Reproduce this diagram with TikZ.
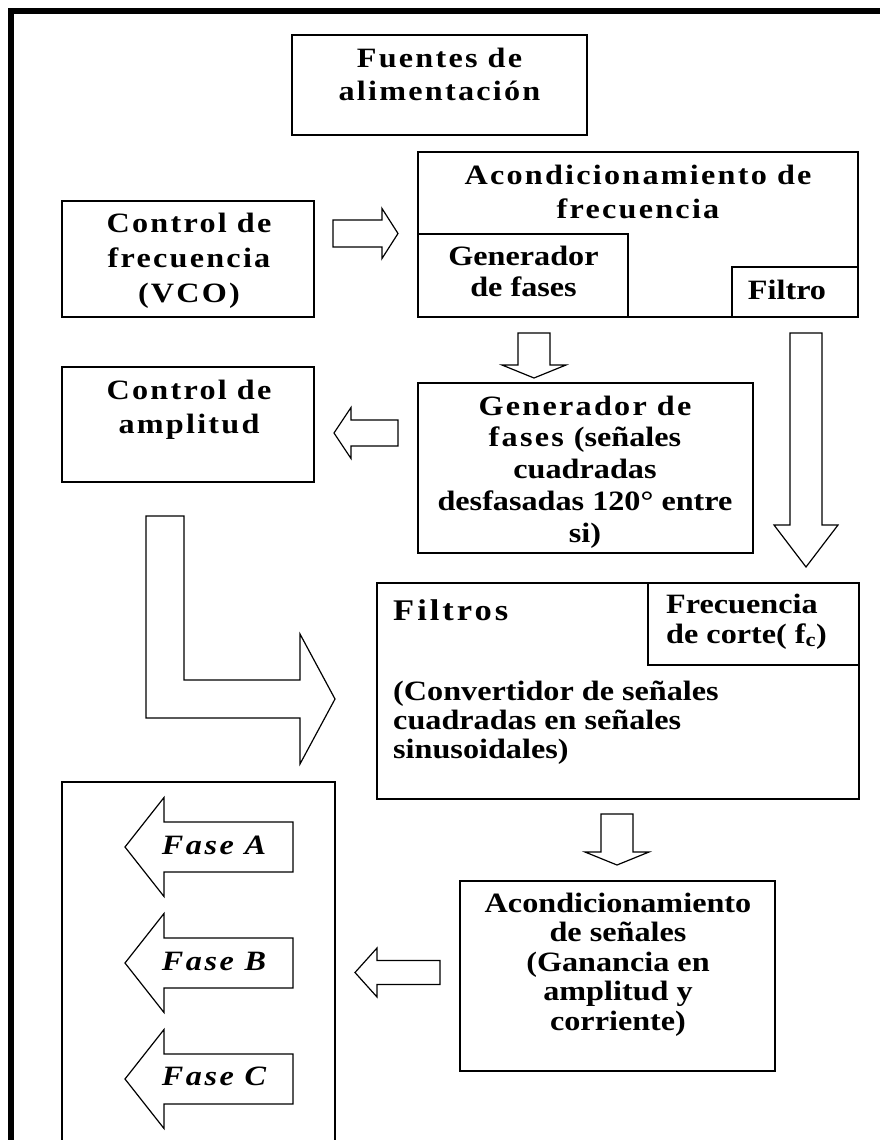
\documentclass[tikz,border=0pt]{standalone}
\usepackage{fontspec}
\setmainfont{Liberation Serif}[Ligatures=CommonOff, FakeStretch=1.15]
\newcommand\wsp{\addfontfeatures{LetterSpace=8}\spaceskip=0.36em\relax}
\newcommand\nsp{\addfontfeatures{LetterSpace=0}\spaceskip=0pt\relax}
\tikzset{
  box/.style={draw, line width=1.3pt, inner sep=0pt, outer sep=0pt},
  txt/.style={inner sep=0pt, text width=440pt, align=flush center, anchor=base},
  ltxt/.style={inner sep=0pt, text width=440pt, align=flush left, anchor=base west},
  ablk/.style={draw, line width=1.2pt, fill=white, line join=miter},
  pics/barrow/.style n args={4}{code={
    \draw[ablk] (0,-#1) -- (#3,-#1) -- (#3,-#2) -- (#4,0) -- (#3,#2) -- (#3,#1) -- (0,#1) -- cycle;}}
}
\begin{document}
\begin{tikzpicture}[x=1pt,y=-1pt]
\useasboundingbox (0,0) rectangle (880,1140);
\clip (0,0) rectangle (880,1140);
% frame
\fill[black] (8,8) rectangle (880,14);
\fill[black] (8,8) rectangle (14,1140);

% boxes
\node[box, minimum width=295pt, minimum height=100pt] (fuentes) at (439.5,85) {};
\node[box, minimum width=440pt, minimum height=165pt] (acf) at (638,234.5) {};
\node[box, minimum width=210pt, minimum height=83pt] (gfsub) at (523,275.5) {};
\node[box, minimum width=126pt, minimum height=50pt] (filtsub) at (795,292) {};
\node[box, minimum width=252pt, minimum height=116pt] (vco) at (188,259) {};
\node[box, minimum width=252pt, minimum height=115pt] (amp) at (188,424.5) {};
\node[box, minimum width=335pt, minimum height=170pt] (gen) at (585.5,468) {};
\node[box, minimum width=482pt, minimum height=216pt] (filtros) at (618,691) {};
\node[box, minimum width=211pt, minimum height=82pt] (fcbox) at (753.5,624) {};
\node[box, minimum width=315pt, minimum height=190pt] (acs) at (617.5,976) {};
\node[box, minimum width=273pt, minimum height=378pt] (fases) at (198.5,971) {};

% texts
\node[txt, font=\bfseries\fontsize{28}{33}\selectfont] (tfuentes) at (439.5,67) {\wsp Fuentes de\\alimentación};
\node[txt, font=\bfseries\fontsize{28}{34}\selectfont] (tacf) at (638,184) {\wsp Acondicionamiento de\\frecuencia};
\node[txt, font=\bfseries\fontsize{28}{31}\selectfont] (tgfsub) at (523.5,265) {\nsp Generador\\de fases};
\node[txt, font=\bfseries\fontsize{28}{31}\selectfont] (tfiltsub) at (787,299) {\nsp Filtro};
\node[txt, font=\bfseries\fontsize{28}{35}\selectfont] (tvco) at (189,232) {\wsp Control de\\frecuencia\\(VCO)};
\node[txt, font=\bfseries\fontsize{28}{34}\selectfont] (tamp) at (189,399) {\wsp Control de\\amplitud};
\node[txt, font=\bfseries\fontsize{28}{31.75}\selectfont] (tgen) at (585,415) {\wsp Generador de\\fases {\nsp(señales}\\\nsp cuadradas\\desfasadas 120° entre\\si)};
\node[ltxt, font=\bfseries\fontsize{30}{30}\selectfont] (tfiltros) at (393,620) {\addfontfeatures{LetterSpace=10}Filtros};
\node[ltxt, font=\bfseries\fontsize{28}{30}\selectfont] (tfc) at (666,613) {\nsp Frecuencia\\de corte( f\textsubscript{c})};
\node[ltxt, font=\bfseries\fontsize{28}{29}\selectfont] (tconv) at (393,700) {\nsp (Convertidor de señales\\cuadradas en señales\\sinusoidales)};
\node[txt, font=\bfseries\fontsize{28}{29.5}\selectfont] (tacs) at (618,912) {\nsp Acondicionamiento\\de señales\\(Ganancia en\\amplitud y\\corriente)};

% block arrows
\coordinate (a1) at (333,233.5);
\pic at (a1) {barrow={13.5}{25}{49}{65}};
\coordinate (a2) at (398,433);
\pic[rotate=180] at (a2) {barrow={13}{25.5}{47}{64}};
\coordinate (a3) at (534,333);
\pic[rotate=-90] at (a3) {barrow={16}{32}{32}{45}};
\coordinate (a4) at (806,333);
\pic[rotate=-90] at (a4) {barrow={16}{32}{192}{234}};
\coordinate (a5) at (617,814);
\pic[rotate=-90] at (a5) {barrow={16}{32}{38}{51}};
\coordinate (a6) at (440,972.5);
\pic[rotate=180] at (a6) {barrow={12}{24.5}{63}{85}};

% L-shaped arrow
\draw[ablk] (146,516) -- (184,516) -- (184,680) -- (300,680) -- (300,634) -- (335,699)
  -- (300,764) -- (300,718) -- (146,718) -- cycle;

% phase arrows
\coordinate (fa) at (293,847);
\coordinate (fb) at (293,963);
\coordinate (fc) at (293,1079);
\pic[rotate=180] at (fa) {barrow={25}{49.5}{129}{168}};
\pic[rotate=180] at (fb) {barrow={25}{49.5}{129}{168}};
\pic[rotate=180] at (fc) {barrow={25}{49.5}{129}{168}};
\node[anchor=base, inner sep=0pt, font=\bfseries\itshape\fontsize{28}{28}\selectfont] (tfa) at (214,854) {\addfontfeatures{LetterSpace=9}Fase A};
\node[anchor=base, inner sep=0pt, font=\bfseries\itshape\fontsize{28}{28}\selectfont] (tfb) at (214,970) {\addfontfeatures{LetterSpace=9}Fase B};
\node[anchor=base, inner sep=0pt, font=\bfseries\itshape\fontsize{28}{28}\selectfont] (tfc2) at (214,1085) {\addfontfeatures{LetterSpace=9}Fase C};
\end{tikzpicture}
\end{document}
